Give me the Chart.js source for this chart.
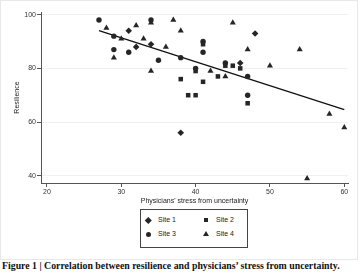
<!DOCTYPE html>
<html>
<head>
<meta charset="utf-8">
<script src="https://cdn.jsdelivr.net/npm/chart.js@4"></script>
<style>
  html, body { margin: 0; padding: 0; background: #fff; }
  body { width: 360px; height: 280px; position: relative; overflow: hidden; font-family: "Liberation Sans", Arial, sans-serif; }
  #frame { position: absolute; left: 0; top: 0; width: 358px; height: 260px; box-sizing: border-box; border: 1px solid #e8e8e8; }
  #wrap { position: absolute; left: 0; top: 0; width: 356px; height: 206px; }
  #legend { position: absolute; left: 140px; top: 209px; width: 108px; height: 39px; box-sizing: border-box; border: 1px solid #444; }
  .item { position: absolute; font-size: 7px; color: #222; line-height: 8px; }
  .sym { position: absolute; }
  #caption { position: absolute; left: 2px; top: 260px; font-family: "Liberation Serif", "Times New Roman", serif; font-weight: bold; font-size: 8.5px; white-space: nowrap; color: #111; }
</style>
</head>
<body>
<div id="frame"></div>
<div id="wrap"><canvas id="chart"></canvas></div>
<div id="legend"></div>
<div id="caption">Figure 1 | Correlation between resilience and physicians’ stress from uncertainty.</div>
<script>
// data
const siteNames = ['Site 1', 'Site 2', 'Site 3', 'Site 4'];
const siteStyles = ['rectRot', 'rect', 'circle', 'triangle'];

const site1X = [31, 32, 34, 48, 46, 38];
const site1Y = [94, 88, 89, 93, 82, 56];

const site2X = [38, 41, 39, 40, 43, 45, 46, 47, 44, 41, 40];
const site2Y = [76, 75, 70, 70, 77, 81, 80, 67, 81, 89, 79];

const site3X = [27, 29, 29, 31, 34, 35, 38, 41, 41, 44, 40, 47, 47];
const site3Y = [98, 92, 87, 86, 98, 83, 84, 86, 90, 82, 80, 77, 70];

const site4X = [28, 30, 29, 32, 33, 34, 34, 36, 37, 38, 45, 47, 50, 54, 42, 44, 58, 60, 55];
const site4Y = [95, 91, 84, 96, 91, 97, 79, 88, 98, 94, 97, 87, 81, 87, 79, 77, 63, 58, 39];

const fitX = [27, 60];
const fitY = [94.1, 64.6];

const xTicks = [20, 30, 40, 50, 60];
const yTicks = [40, 60, 80, 100];

const xTitle = "Physicians' stress from uncertainty";
const yTitle = 'Resilience';

const siteX = [site1X, site2X, site3X, site4X];
const siteY = [site1Y, site2Y, site3Y, site4Y];
const radii = [3.3, 3.2, 2.7, 3.5];

const FONT = '"Liberation Sans", Arial, sans-serif';
const markColor = '#262626';

const datasets = siteNames.map((name, i) => ({
    type: 'scatter',
    label: name,
    data: siteX[i].map((x, j) => ({ x: x, y: siteY[i][j] })),
    pointStyle: siteStyles[i],
    pointRadius: radii[i],
    pointBackgroundColor: markColor,
    pointBorderWidth: 0
}));

datasets.push({
    type: 'line',
    label: 'fit',
    data: fitX.map((x, j) => ({ x: x, y: fitY[j] })),
    borderColor: '#111',
    borderWidth: 1.3,
    pointRadius: 0,
    fill: false
});

new Chart(document.getElementById('chart'), {
    type: 'scatter',
    data: { datasets: datasets },
    options: {
        responsive: true,
        maintainAspectRatio: false,
        animation: false,
        layout: { padding: { top: 12, right: 8, left: 0, bottom: 0 } },
        plugins: { legend: { display: false }, tooltip: { enabled: false } },
        scales: {
            x: {
                type: 'linear',
                min: 19.2,
                max: 60.5,
                afterBuildTicks: s => { s.ticks = xTicks.map(v => ({ value: v })); },
                afterFit: s => { s.height = 23; },
                ticks: { font: { family: FONT, size: 7 }, color: '#333', padding: 1, maxRotation: 0 },
                grid: { drawOnChartArea: false, drawTicks: true, tickLength: 4, tickColor: '#555' },
                border: { display: true, color: '#555', width: 1 },
                title: { display: true, text: xTitle, font: { family: FONT, size: 7 }, color: '#222', padding: { top: 0, bottom: 0.3 } }
            },
            y: {
                type: 'linear',
                min: 37.3,
                max: 101,
                afterBuildTicks: s => { s.ticks = yTicks.map(v => ({ value: v })); },
                afterFit: s => { s.width = 41; },
                ticks: { font: { family: FONT, size: 7 }, color: '#333', padding: 1 },
                grid: { color: '#eef0f2', drawTicks: true, tickLength: 4, tickColor: '#555' },
                border: { display: true, color: '#555', width: 1 },
                title: { display: true, text: yTitle, font: { family: FONT, size: 7 }, color: '#222', padding: { top: 12.5, bottom: 0 } }
            }
        }
    }
});

// legend box (two columns, two rows)
const legend = document.getElementById('legend');
const legendCols = [7, 65];
const legendRows = [10, 24];
siteNames.forEach((name, i) => {
    const cx = legendCols[i % 2];
    const cy = legendRows[Math.floor(i / 2)];
    const sym = document.createElement('div');
    sym.className = 'sym';
    const st = siteStyles[i];
    if (st === 'circle') {
        sym.style.cssText = `left:${cx - 2.5}px;top:${cy - 2.5}px;width:5px;height:5px;border-radius:50%;background:${markColor}`;
    } else if (st === 'rect') {
        sym.style.cssText = `left:${cx - 2.3}px;top:${cy - 2.3}px;width:4.6px;height:4.6px;background:${markColor}`;
    } else if (st === 'rectRot') {
        sym.style.cssText = `left:${cx - 2.3}px;top:${cy - 2.3}px;width:4.6px;height:4.6px;background:${markColor};transform:rotate(45deg)`;
    } else {
        sym.style.cssText = `left:${cx - 3}px;top:${cy - 2.8}px;width:0;height:0;border-left:3px solid transparent;border-right:3px solid transparent;border-bottom:5.2px solid ${markColor}`;
    }
    legend.appendChild(sym);
    const lab = document.createElement('div');
    lab.className = 'item';
    lab.textContent = name;
    lab.style.left = (cx + 10) + 'px';
    lab.style.top = (cy - 4.5) + 'px';
    legend.appendChild(lab);
});

// fit caption width to the original
const cap = document.getElementById('caption');
const target = 338;
const w = cap.getBoundingClientRect().width;
cap.style.fontSize = (8.5 * target / w).toFixed(2) + 'px';
</script>
</body>
</html>
